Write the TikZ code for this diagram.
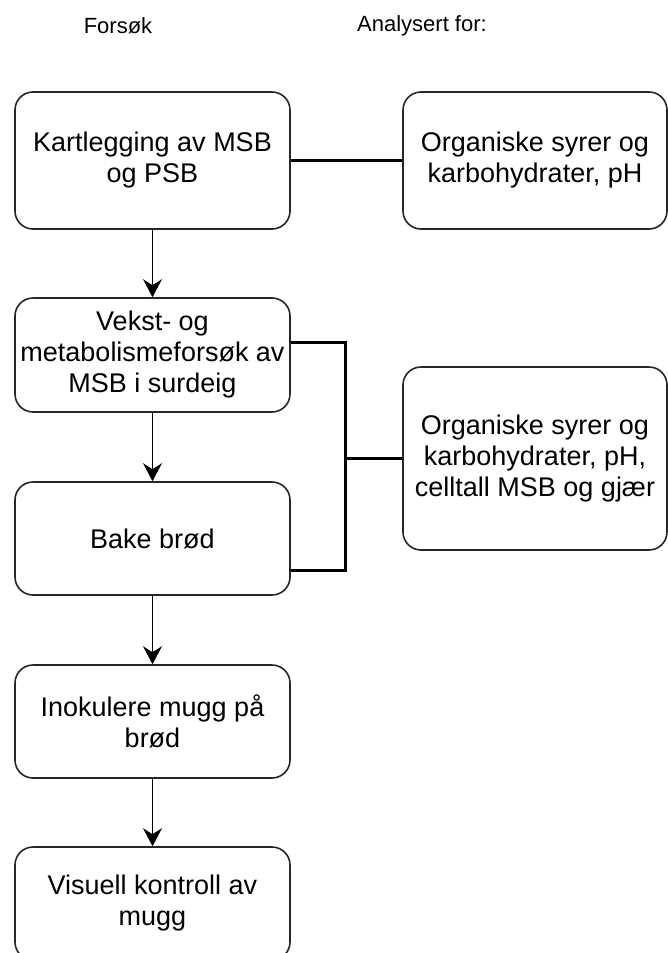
\documentclass[tikz,border=0pt]{standalone}
\usepackage{fontspec}
\setmainfont{Liberation Sans}
\usetikzlibrary{arrows.meta}
\begin{document}
\begin{tikzpicture}[x=1pt,y=-1pt,
  box/.style={draw=black!85, line width=1.6pt, rounded corners=18pt, align=center,
    font=\fontsize{27}{31}\selectfont, inner sep=0pt},
  lbox/.style={box, minimum width=275pt, minimum height=113pt},
  rbox/.style={box, minimum width=264pt},
  head/.style={font=\fontsize{22}{25}\selectfont, inner sep=0pt},
  flow/.style={line width=1.6pt, -{Stealth[length=18pt,width=19pt,inset=6pt]}},
  link/.style={line width=3pt}]
\useasboundingbox (0,0) rectangle (668,953);
\clip (0,0) rectangle (668,953);
\node[head] (h1) at (118,26) {Forsøk};
\node[head] (h2) at (422,26) {Analysert for:};
\node[lbox, minimum height=137pt] (b1) at (152.5,160.5) {Kartlegging av MSB\\og PSB};
\node[lbox, minimum height=114pt] (b2) at (152.5,355) {Vekst- og\\metabolismeforsøk av\\MSB i surdeig};
\node[lbox] (b3) at (152.5,538.5) {Bake brød};
\node[lbox] (b4) at (152.5,721.5) {Inokulere mugg på\\brød};
\node[lbox] (b5) at (152.5,903.5) {Visuell kontroll av\\mugg};
\node[rbox, minimum height=137pt] (r1) at (535,160.5) {Organiske syrer og\\karbohydrater, pH};
\node[rbox, minimum height=183pt] (r2) at (535,458.5) {Organiske syrer og\\karbohydrater, pH,\\celltall MSB og gjær};
\draw[flow] (b1) -- (b2);
\draw[flow] (b2) -- (b3);
\draw[flow] (b3) -- (b4);
\draw[flow] (b4) -- (b5);
\draw[link] (b1) -- (r1);
\coordinate (j1) at (345,342);
\coordinate (j2) at (345,570);
\coordinate (jm) at (345,458.5);
\draw[link] (b2.east |- j1) -- (j1) -- (j2) -- (b3.east |- j2);
\draw[link] (jm) -- (r2.west);
\end{tikzpicture}
\end{document}
